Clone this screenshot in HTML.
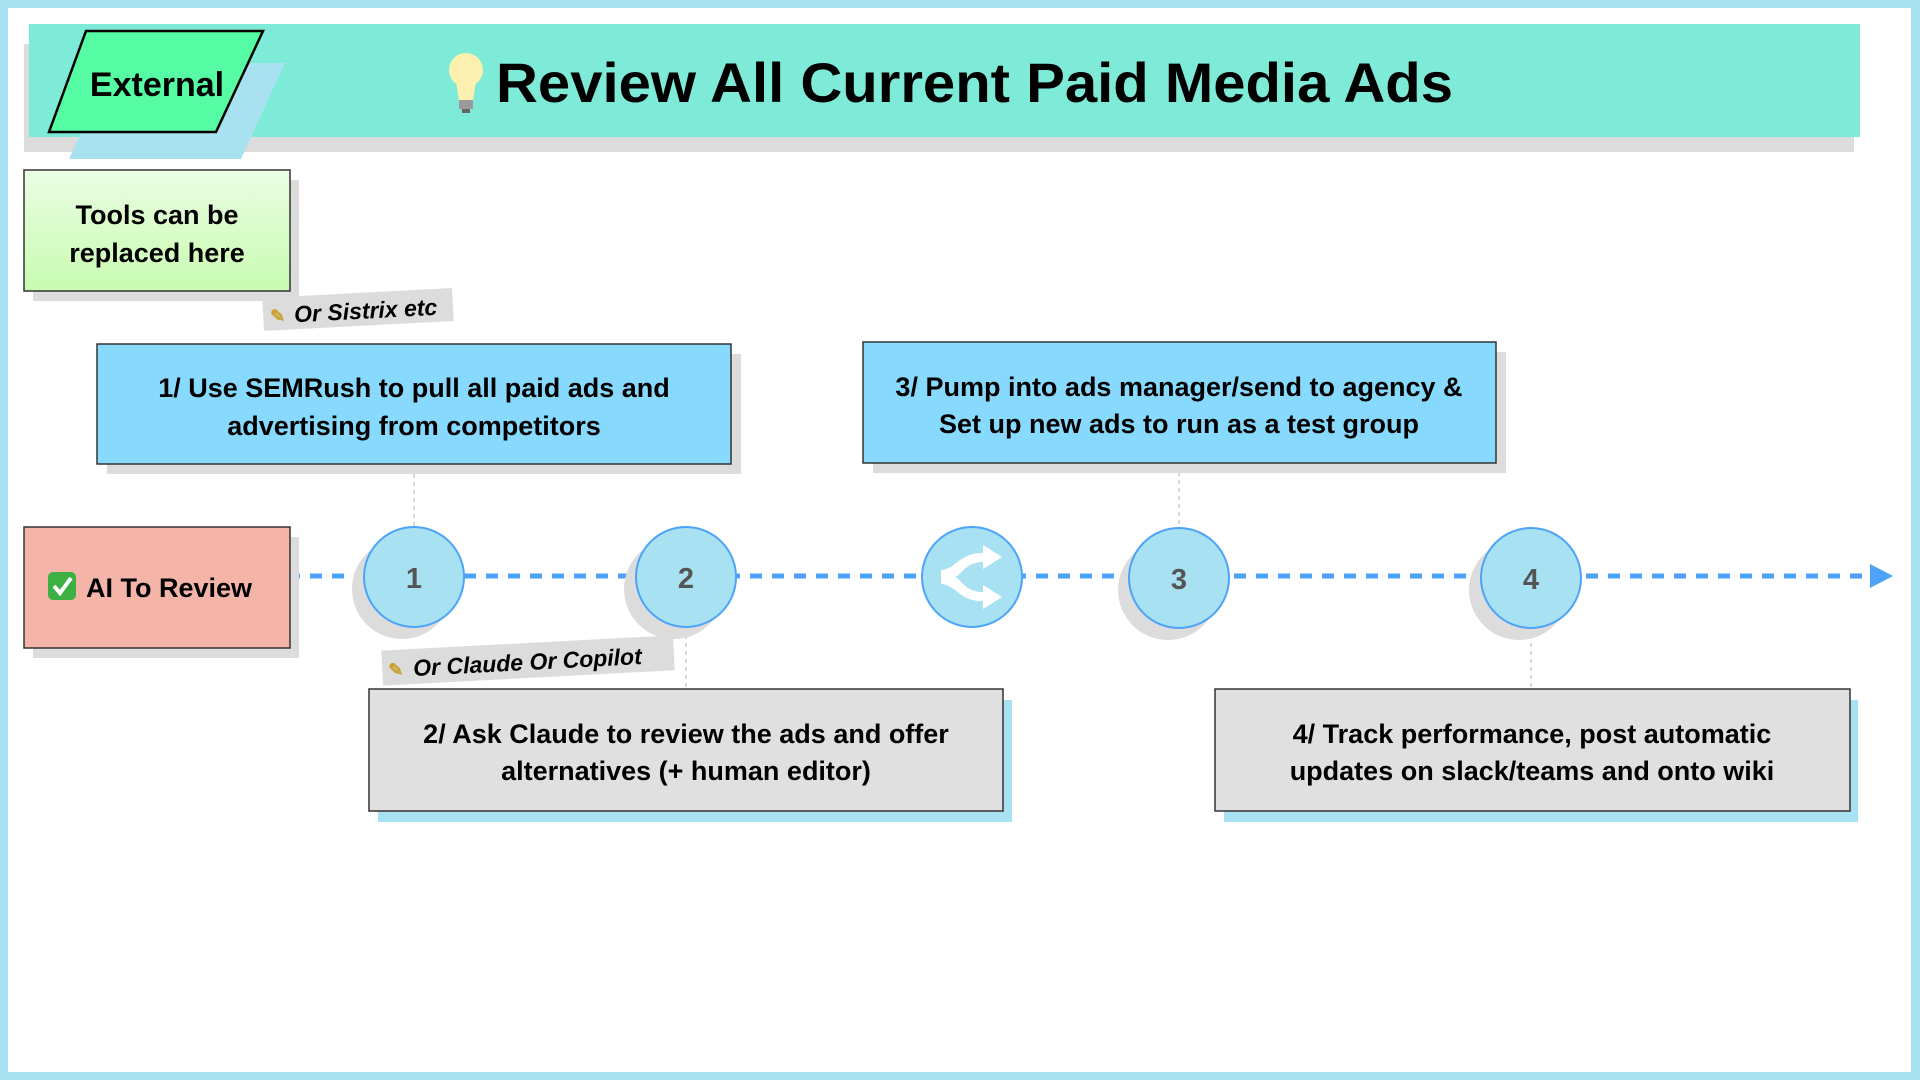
<!DOCTYPE html>
<html><head><meta charset="utf-8"><style>
html,body{margin:0;padding:0;width:1920px;height:1080px;overflow:hidden;background:#fff}
svg{display:block}
text{font-family:"Liberation Sans",sans-serif;font-weight:bold}
</style></head><body>
<svg width="1920" height="1080" viewBox="0 0 1920 1080" xmlns="http://www.w3.org/2000/svg">
<rect x="0" y="0" width="1920" height="1080" fill="#a8e2f0"/>
<rect x="8" y="8" width="1903" height="1064" fill="#fff"/>
<!-- header -->
<rect x="24" y="44" width="1830" height="108" fill="#dcdcdc"/>
<rect x="29" y="24" width="1831" height="113" fill="#7eead8"/>
<polygon points="113,63 285,63 241,159 69,159" fill="#a8e2f0"/>
<polygon points="86,31 263,31 216,132 49,132" fill="#55fca3" stroke="#000" stroke-width="2.5"/>
<text x="157" y="96" font-size="34" text-anchor="middle" fill="#000">External</text>
<!-- bulb -->
<g transform="translate(466,82)">
<circle cx="0" cy="-12" r="17" fill="#fcf0b0"/>
<path d="M-10,0 L10,0 L7,18 L-7,18 Z" fill="#fcf0b0"/>
<rect x="-7" y="18" width="14" height="9" fill="#999"/>
<rect x="-4" y="27" width="8" height="4" fill="#666"/>
</g>
<text x="496" y="102" font-size="56" fill="#000" textLength="957" lengthAdjust="spacingAndGlyphs">Review All Current Paid Media Ads</text>
<!-- tools box -->
<defs><linearGradient id="g" x1="0" y1="0" x2="0" y2="1"><stop offset="0" stop-color="#eafde4"/><stop offset="1" stop-color="#c8fbb0"/></linearGradient></defs>
<rect x="33" y="180" width="266" height="121" fill="#dcdcdc"/>
<rect x="24" y="170" width="266" height="121" fill="url(#g)" stroke="#333" stroke-width="1.5"/>
<text x="157" y="224" font-size="27" text-anchor="middle">Tools can be</text>
<text x="157" y="262" font-size="27" text-anchor="middle">replaced here</text>
<!-- note sistrix -->
<g transform="rotate(-3 357 310)">
<rect x="263" y="293" width="190" height="33" fill="#dcdcdc"/>
<text x="270" y="318" font-size="18" fill="#c9a030">✎</text>
<text x="294" y="319" font-size="23" font-style="italic">Or Sistrix etc</text>
</g>
<!-- timeline -->
<line x1="24" y1="576" x2="1872" y2="576" stroke="#4da3f7" stroke-width="5" stroke-dasharray="12 10"/>
<polygon points="1870,564 1893,576 1870,588" fill="#4da3f7"/>
<!-- connectors -->
<g stroke="#ccc" stroke-width="1.5" stroke-dasharray="4 4">
<line x1="414" y1="466" x2="414" y2="526"/>
<line x1="1179" y1="464" x2="1179" y2="526"/>
<line x1="686" y1="627" x2="686" y2="689"/>
<line x1="1531" y1="627" x2="1531" y2="689"/>
</g>
<!-- box1 / box3 -->
<rect x="107" y="354" width="634" height="120" fill="#dcdcdc"/>
<rect x="97" y="344" width="634" height="120" fill="#87d9fd" stroke="#333" stroke-width="1.5"/>
<text x="414" y="397" font-size="27" text-anchor="middle">1/ Use SEMRush to pull all paid ads and</text>
<text x="414" y="435" font-size="27" text-anchor="middle">advertising from competitors</text>
<rect x="873" y="352" width="633" height="121" fill="#dcdcdc"/>
<rect x="863" y="342" width="633" height="121" fill="#87d9fd" stroke="#333" stroke-width="1.5"/>
<text x="1179" y="396" font-size="27" text-anchor="middle">3/ Pump into ads manager/send to agency &amp;</text>
<text x="1179" y="433" font-size="27" text-anchor="middle">Set up new ads to run as a test group</text>
<!-- AI review -->
<rect x="33" y="537" width="266" height="121" fill="#dcdcdc"/>
<rect x="24" y="527" width="266" height="121" fill="#f4b5a8" stroke="#333" stroke-width="1.5"/>
<rect x="48" y="572" width="28" height="28" rx="5" fill="#3cb043"/>
<path d="M54,586 L60,593 L71,578" stroke="#fff" stroke-width="4" fill="none"/>
<text x="86" y="597" font-size="27">AI To Review</text>
<!-- circles -->
<g fill="#dcdcdc">
<circle cx="402" cy="589" r="50"/><circle cx="674" cy="589" r="50"/><circle cx="1168" cy="590" r="50"/><circle cx="1519" cy="590" r="50"/>
</g>
<g fill="#a8e2f2" stroke="#4da3f7" stroke-width="2">
<circle cx="414" cy="577" r="50"/><circle cx="686" cy="577" r="50"/><circle cx="972" cy="577" r="50"/><circle cx="1179" cy="578" r="50"/><circle cx="1531" cy="578" r="50"/>
</g>
<g font-size="29" fill="#555" text-anchor="middle">
<text x="414" y="588">1</text><text x="686" y="588">2</text><text x="1179" y="589">3</text><text x="1531" y="589">4</text>
</g>
<g fill="#fff">
<path d="M941,570 C955,570 960,552 983,553 L983,545 L1002,557 L983,569 L983,562 C965,562 962,575 955,577 C962,580 965,592 983,592 L983,585 L1002,597 L983,609 L983,601 C960,602 955,584 941,584 Z"/>
</g>
<!-- note claude -->
<g transform="rotate(-3 527 660)">
<rect x="382" y="643" width="292" height="35" fill="#dcdcdc"/>
<text x="388" y="669" font-size="18" fill="#c9a030">✎</text>
<text x="413" y="670" font-size="23" font-style="italic">Or Claude Or Copilot</text>
</g>
<!-- box2 / box4 -->
<rect x="378" y="700" width="634" height="122" fill="#a8e2f2"/>
<rect x="369" y="689" width="634" height="122" fill="#e0e0e0" stroke="#333" stroke-width="1.5"/>
<text x="686" y="743" font-size="27" text-anchor="middle">2/ Ask Claude to review the ads and offer</text>
<text x="686" y="780" font-size="27" text-anchor="middle">alternatives (+ human editor)</text>
<rect x="1224" y="700" width="634" height="122" fill="#a8e2f2"/>
<rect x="1215" y="689" width="635" height="122" fill="#e0e0e0" stroke="#333" stroke-width="1.5"/>
<text x="1532" y="743" font-size="27" text-anchor="middle">4/ Track performance, post automatic</text>
<text x="1532" y="780" font-size="27" text-anchor="middle">updates on slack/teams and onto wiki</text>
</svg>
</body></html>
